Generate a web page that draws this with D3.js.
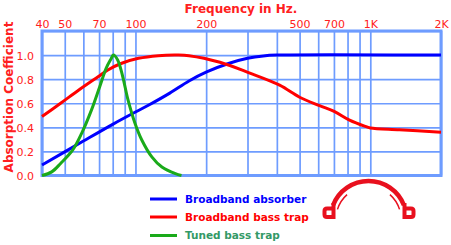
<!DOCTYPE html>
<html>
<head>
<meta charset="utf-8">
<script src="https://cdn.jsdelivr.net/npm/d3@7/dist/d3.min.js"></script>
<style>
  body { margin: 0; background: #fff; }
  svg { display: block; }
  text { font-family: "DejaVu Sans", Verdana, sans-serif; }
</style>
</head>
<body>
<div id="chart"></div>
<script>
// values
var xGrid = [40, 50, 60, 70, 80, 90, 100, 200, 300, 400, 500, 600, 700, 800, 900, 1000, 2000];
var xLabels = [40, 50, 70, 100, 200, 500, 700, 1000, 2000];
var xLabelText = ["40", "50", "70", "100", "200", "500", "700", "1K", "2K"];
var yGrid = [0, 0.2, 0.4, 0.6, 0.8, 1.0, 1.2];
var yLabels = [0, 0.2, 0.4, 0.6, 0.8, 1.0];

var broadbandAbsorber = [[40, 0.087], [60, 0.286], [80, 0.425], [100, 0.527], [114, 0.585], [140, 0.684],
  [169, 0.785], [201, 0.86], [249, 0.93], [300, 0.973], [350, 0.993], [400, 1.0], [2000, 1.0]];
var broadbandBassTrap = [[40, 0.49], [48, 0.60], [57.4, 0.71], [69.3, 0.82], [76.3, 0.876], [86.8, 0.93],
  [103, 0.973], [125, 0.995], [150, 1.0], [169, 0.995], [229, 0.94], [307, 0.85], [411, 0.75], [500, 0.65],
  [608, 0.58], [705, 0.53], [816, 0.46], [945, 0.41], [1000, 0.395], [1330, 0.38], [2000, 0.36]];
var tunedBassTrap = [[40, 0], [44, 0.03], [48, 0.1], [54, 0.21], [59, 0.35], [65, 0.545], [70.5, 0.74],
  [75, 0.89], [78.8, 0.97], [80.5, 1.0], [84, 0.96], [88.3, 0.82], [92.9, 0.63], [99.7, 0.43],
  [106.4, 0.295], [117.4, 0.155], [129.6, 0.07], [148, 0.015], [157, 0]];

var seriesNames = ["Broadband absorber", "Broadband bass trap", "Tuned bass trap"];
var seriesColors = ["#0000ff", "#ff0000", "#1aaa1a"];
var legendTextColors = ["#0000ff", "#ff0000", "#339966"];

function arcPath(r, a0, a1) {
  var p = d3.path();
  p.arc(0, 0, r, a0, a1);
  return p.toString();
}

function drawChart() {
  var width = 451, height = 245;
  var pLeft = 42, pRight = 441, pTop = 31, pBottom = 175.5;
  var gridColor = "#6e9cff";
  var labelRed = "#ff2020";

  var svg = d3.select("#chart").append("svg")
    .attr("width", width)
    .attr("height", height);

  var x = d3.scaleLog().domain([40, 2000]).range([pLeft, pRight]);
  var y = d3.scaleLinear().domain([0, 1.2]).range([pBottom, pTop]);

  // grid
  var gx = svg.append("g")
    .attr("transform", "translate(0," + pBottom + ")")
    .call(d3.axisBottom(x).tickValues(xGrid).tickSize(-(pBottom - pTop)).tickFormat(""));
  var gy = svg.append("g")
    .attr("transform", "translate(" + pLeft + ",0)")
    .call(d3.axisLeft(y).tickValues(yGrid).tickSize(-(pRight - pLeft)).tickFormat(""));
  gx.select(".domain").remove();
  gy.select(".domain").remove();
  svg.selectAll(".tick line").attr("stroke", gridColor).attr("stroke-width", 1.7);

  // frame
  svg.append("rect")
    .attr("x", pLeft).attr("y", pTop)
    .attr("width", pRight - pLeft).attr("height", pBottom - pTop)
    .attr("fill", "none")
    .attr("stroke", gridColor)
    .attr("stroke-width", 3);

  // frequency labels on top
  var ax = svg.append("g")
    .attr("transform", "translate(0,28)")
    .call(d3.axisTop(x).tickValues(xLabels).tickSize(0).tickPadding(0)
      .tickFormat(function (d, i) { return xLabelText[i]; }));
  ax.select(".domain").remove();
  ax.selectAll("text")
    .attr("y", 0).attr("dy", 0)
    .attr("fill", labelRed)
    .style("font-size", "11px")
    .style("font-family", "DejaVu Sans, Verdana, sans-serif");

  // coefficient labels
  var ay = svg.append("g")
    .attr("transform", "translate(34,0)")
    .call(d3.axisLeft(y).tickValues(yLabels).tickSize(0).tickPadding(0).tickFormat(d3.format(".1f")));
  ay.select(".domain").remove();
  ay.selectAll("text")
    .attr("x", 0).attr("dy", "0.36em")
    .attr("fill", labelRed)
    .style("font-size", "11px")
    .style("font-family", "DejaVu Sans, Verdana, sans-serif");

  // titles
  svg.append("text")
    .attr("x", 241).attr("y", 12.5)
    .attr("text-anchor", "middle")
    .attr("fill", labelRed)
    .style("font-size", "12px").style("font-weight", "bold")
    .text("Frequency in Hz.");
  svg.append("text")
    .attr("transform", "translate(13,97) rotate(-90)")
    .attr("text-anchor", "middle")
    .attr("fill", labelRed)
    .style("font-size", "12px").style("font-weight", "bold")
    .text("Absorption Coefficient");

  // curves
  var line = d3.line()
    .x(function (d) { return x(d[0]); })
    .y(function (d) { return y(d[1]); })
    .curve(d3.curveCatmullRom.alpha(0.5));

  var series = [broadbandAbsorber, broadbandBassTrap, tunedBassTrap];
  series.forEach(function (s, i) {
    svg.append("path")
      .datum(s)
      .attr("d", line)
      .attr("fill", "none")
      .attr("stroke", seriesColors[i])
      .attr("stroke-width", 3)
      .attr("stroke-linejoin", "round");
  });

  // legend
  var legend = svg.append("g");
  var legendY = [199, 217, 235.5];
  seriesNames.forEach(function (name, i) {
    legend.append("line")
      .attr("x1", 150).attr("x2", 177)
      .attr("y1", legendY[i]).attr("y2", legendY[i])
      .attr("stroke", seriesColors[i])
      .attr("stroke-width", 3);
    legend.append("text")
      .attr("x", 185).attr("y", legendY[i] + 3.8)
      .attr("fill", legendTextColors[i])
      .style("font-size", "10.5px").style("font-weight", "bold")
      .text(name);
  });

  // logo (headphones)
  var logo = svg.append("g")
    .attr("fill", "none")
    .attr("stroke", "#e8101e")
    .attr("transform", "translate(368.5,219)");
  logo.append("path")
    .attr("d", arcPath(38, Math.PI + 0.37, 2 * Math.PI - 0.37))
    .attr("stroke-width", 4.5);
  logo.append("path")
    .attr("d", arcPath(32.5, Math.PI + 0.3, Math.PI + 0.85))
    .attr("stroke-width", 1.5);
  logo.append("path")
    .attr("d", arcPath(32.5, 2 * Math.PI - 0.85, 2 * Math.PI - 0.3))
    .attr("stroke-width", 1.5);
  // d and b ear pieces
  logo.append("path")
    .attr("d", "M-35,-16 L-35,-2 L-41.5,-2 Q-44,-2 -44,-4.5 L-44,-8 Q-44,-10.5 -41.5,-10.5 L-35,-10.5")
    .attr("stroke-width", 4);
  logo.append("path")
    .attr("d", "M36,-16 L36,-2 L42.5,-2 Q45,-2 45,-4.5 L45,-8 Q45,-10.5 42.5,-10.5 L36,-10.5")
    .attr("stroke-width", 4);
}

drawChart();
</script>
</body>
</html>
